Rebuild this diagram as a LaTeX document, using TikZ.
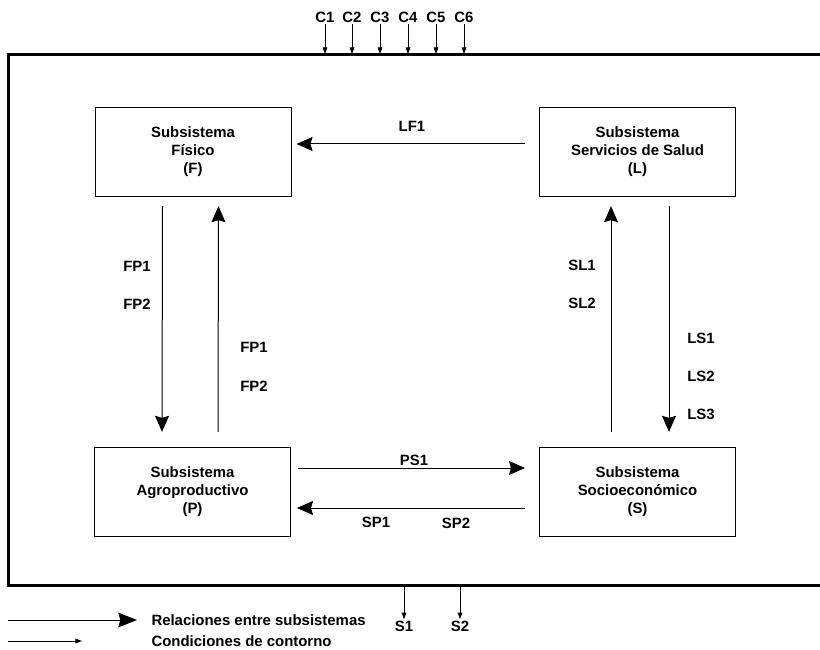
\documentclass[tikz,border=0pt]{standalone}
\usepackage{fontspec}
\setmainfont{Liberation Sans}
\usetikzlibrary{arrows.meta,calc}

\tikzset{every picture/.style={line width=0.75pt}}
\tikzset{
  subsis/.style={draw, line width=0.75pt, minimum width=147pt, minimum height=67pt, inner sep=0pt, align=center, font=\fontsize{11.2}{13.5}\selectfont\bfseries},
  rel/.style={-{Stealth[length=12pt,width=10.5pt,inset=1.5pt]}},
  cont/.style={-{Triangle[length=5pt,width=3.5pt]}},
  etiq/.style={inner sep=0.75pt, font=\fontsize{11.2}{13.5}\selectfont\bfseries},
  marco/.style={line width=2.25pt}
}

\begin{document}
\begin{tikzpicture}[x=0.75pt,y=0.75pt,yscale=-1,xscale=1]
    \useasboundingbox (0,0) rectangle (820,649);

    %Outer frame
    \coordinate (mTR) at (821,55);
    \coordinate (mTL) at (8,55);
    \coordinate (mBL) at (8,585);
    \coordinate (mBR) at (821,585);
    \draw [marco]   (mTR) -- (mTL) -- (mBL) -- (mBR) ;

    % Subsystems
    \node [subsis] (F) at (193,152) {Subsistema\\Físico\\(F)};
    \node [subsis] (L) at (637.5,152) {Subsistema\\Servicios de Salud\\(L)};
    \node [subsis] (P) at (192.5,492) {Subsistema\\Agroproductivo\\(P)};
    \node [subsis] (S) at (637.5,492) {Subsistema\\Socioeconómico\\(S)};

    %Relations
    \draw [rel]   ($(L.west)+(-14,-8)$) -- ($(F.east)+(5,-8)$) ;
    \draw [rel]   ($(F.south west)+(68,9)$) -- ($(P.north west)+(68,-15)$) ;
    \draw [rel]   ($(P.north west)+(124,-15)$) -- ($(F.south west)+(124,9)$) ;
    \draw [rel]   ($(S.north west)+(72,-15)$) -- ($(L.south west)+(72,9)$) ;
    \draw [rel]   ($(L.south west)+(130,9)$) -- ($(S.north west)+(130,-15)$) ;
    \draw [rel]   ($(P.east)+(7,-24)$) -- ($(S.west)+(-14,-24)$) ;
    \draw [rel]   ($(S.west)+(-14,16)$) -- ($(P.east)+(6,16)$) ;

    % Text Node
    \node [etiq] (lf1) at (412,126) {LF1};
    \node [etiq] (fp1a) at (137,266) {FP1};
    \node [etiq] (fp2a) at (137,304) {FP2};
    \node [etiq] (fp1b) at (254,347) {FP1};
    \node [etiq] (fp2b) at (254,386) {FP2};
    \node [etiq] (sl1) at (582,265) {SL1};
    \node [etiq] (sl2) at (582,303) {SL2};
    \node [etiq] (ls1) at (701,338) {LS1};
    \node [etiq] (ls2) at (701,376) {LS2};
    \node [etiq] (ls3) at (701,414) {LS3};
    \node [etiq] (ps1) at (414,460) {PS1};
    \node [etiq] (sp1) at (376,522) {SP1};
    \node [etiq] (sp2) at (456,523) {SP2};

    %Boundary conditions
    \foreach \c/\x in {1/325,2/352,3/380,4/408,5/436,6/464}{
      \node [etiq] (c\c) at (\x,17) {C\c};
      \draw [cont]   (c\c.south) -- (\x,54) ;
    }
    \foreach \s/\x in {1/404,2/460}{
      \node [etiq] (s\s) at (\x,626) {S\s};
      \draw [cont]   (\x,586) -- (s\s.north) ;
    }

    %Legend
    \node [etiq, anchor=west] (lrel) at (150,620) {Relaciones entre subsistemas};
    \node [etiq, anchor=west] (lcon) at (150,641) {Condiciones de contorno};
    \coordinate (lr0) at (8,620);
    \coordinate (lc0) at (8,641);
    \draw [-{Stealth[length=14pt,width=11pt,inset=1.5pt]}]   (lr0) -- ($(lrel.west)+(-13,0)$) ;
    \draw [cont]   (lc0) -- ($(lcon.west)+(-68,0)$) ;

\end{tikzpicture}
\end{document}
